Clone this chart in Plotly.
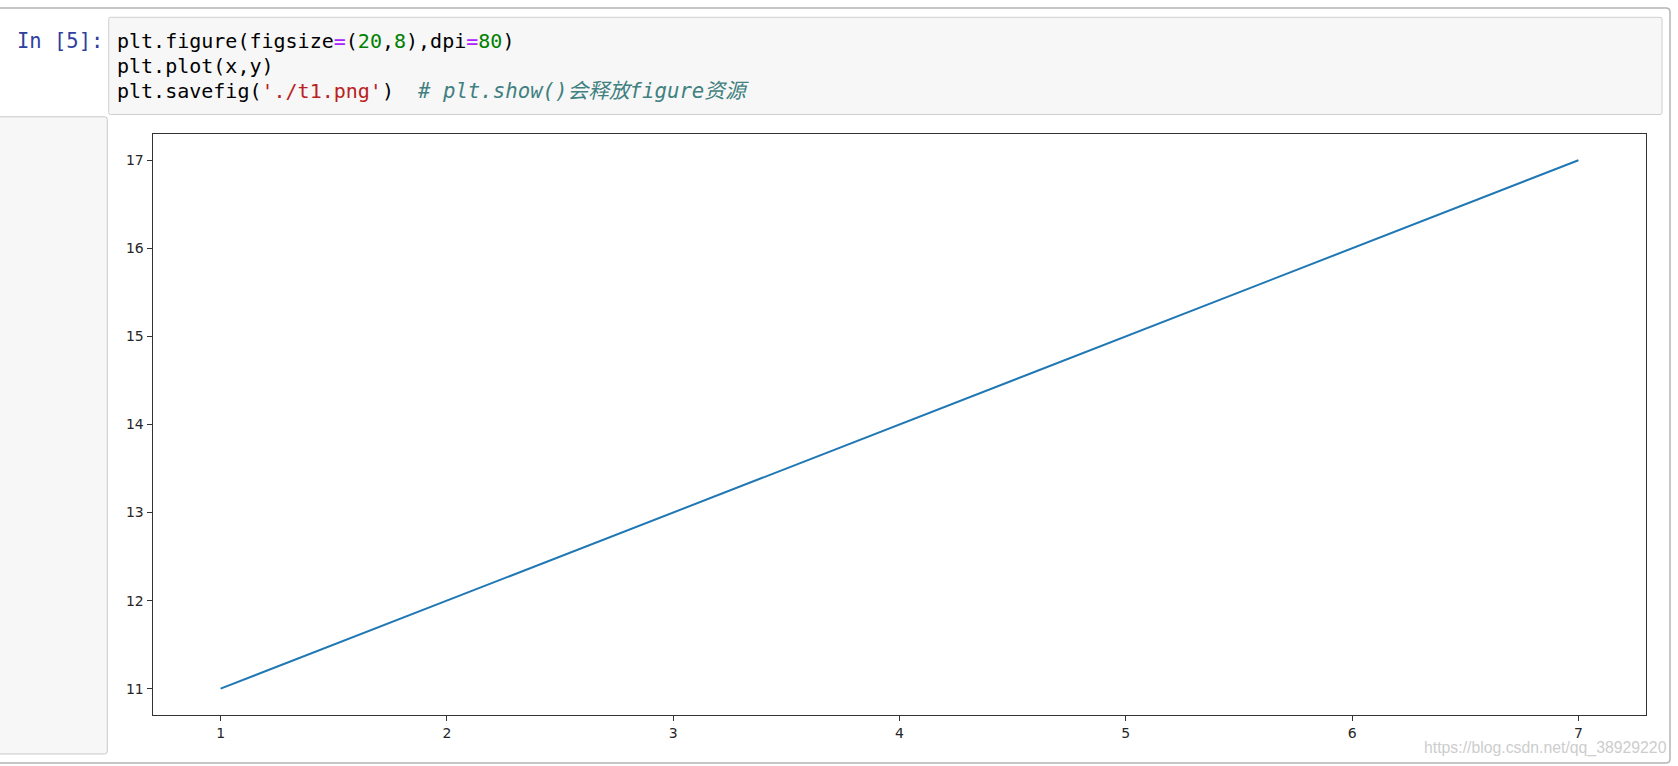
import plotly.graph_objects as go

# ---- data ----
x_vals = [1, 2, 3, 4, 5, 6, 7]
y_vals = [11, 12, 13, 14, 15, 16, 17]
x_ticks = [1, 2, 3, 4, 5, 6, 7]
y_ticks = [11, 12, 13, 14, 15, 16, 17]

prompt_text = "In [5]:"
code_lines = [
    "plt.figure(figsize<span style='color:#AA22FF'>=</span>(<span style='color:#008000'>20</span>,<span style='color:#008000'>8</span>),dpi<span style='color:#AA22FF'>=</span><span style='color:#008000'>80</span>)",
    "plt.plot(x,y)",
    "plt.savefig(<span style='color:#BA2121'>'./t1.png'</span>)\u00a0\u00a0<span style='color:#408080;font-size:20.7px'><i>#\u00a0plt.show()会释放figure资源</i></span>",
]
watermark = "https://blog.csdn.net/qq_38929220"

W, H = 1678, 766


def px(x):
    return x / W


def py(y):
    return 1 - y / H


def path(points):
    d = ""
    for cmd, pts in points:
        d += cmd + " " + " ".join(f"{px(a):.6f},{py(b):.6f}" for a, b in pts) + " "
    return d.strip()


fig = go.Figure()
fig.add_trace(go.Scatter(
    x=x_vals, y=y_vals, mode="lines",
    line=dict(color="#1f77b4", width=2),
    hoverinfo="skip", showlegend=False,
))

shapes = []
# outer notebook frame
shapes.append(dict(
    type="path", xref="paper", yref="paper",
    path=path([("M", [(0, 8)]), ("L", [(1666, 8)]), ("Q", [(1670, 8), (1670, 12)]),
               ("L", [(1670, 759)]), ("Q", [(1670, 763), (1666, 763)]), ("L", [(0, 763)])]),
    line=dict(color="#b4b4b4", width=1.5),
))
# code cell box
shapes.append(dict(
    type="path", xref="paper", yref="paper",
    path=path([("M", [(110.5, 17.3)]), ("L", [(1660, 17.3)]), ("Q", [(1662, 17.3), (1662, 19.3)]),
               ("L", [(1662, 112.5)]), ("Q", [(1662, 114.5), (1660, 114.5)]),
               ("L", [(110.5, 114.5)]), ("Q", [(108.7, 114.5), (108.7, 112.5)]),
               ("L", [(108.7, 19.3)]), ("Q", [(108.7, 17.3), (110.5, 17.3)]), ("Z", [])]),
    fillcolor="#f7f7f7", line=dict(color="#cfcfcf", width=1),
))
# output prompt box
shapes.append(dict(
    type="path", xref="paper", yref="paper",
    path=path([("M", [(-2, 116.8)]), ("L", [(104.5, 116.8)]), ("Q", [(107.3, 116.8), (107.3, 119.6)]),
               ("L", [(107.3, 751)]), ("Q", [(107.3, 754), (104.5, 754)]),
               ("L", [(-2, 754)]), ("Z", [])]),
    fillcolor="#f7f7f7", line=dict(color="#c8c8c8", width=1),
))

annotations = []
annotations.append(dict(
    text=prompt_text, xref="paper", yref="paper",
    x=px(14.5), y=py(40.7), xanchor="left", yanchor="middle", showarrow=False,
    font=dict(family="DejaVu Sans Mono", size=20.5, color="#303F9F"),
))
line_y = [40.7, 66.2, 91.2]
for t, yy in zip(code_lines, line_y):
    annotations.append(dict(
        text=t, xref="paper", yref="paper",
        x=px(114.5), y=py(yy), xanchor="left", yanchor="middle", showarrow=False,
        font=dict(family="DejaVu Sans Mono, Noto Sans CJK SC", size=20, color="#000000"),
    ))
annotations.append(dict(
    text=watermark, xref="paper", yref="paper",
    x=px(1669), y=py(748), xanchor="right", yanchor="middle", showarrow=False,
    font=dict(family="Liberation Sans, Arial", size=15.8, color="#cdcdcd"),
))

axis_common = dict(
    showgrid=False, zeroline=False, showline=True, mirror=True,
    linecolor="#333333", linewidth=1.3,
    ticks="outside", ticklen=5, tickwidth=1.2, tickcolor="#333333",
    tickfont=dict(family="DejaVu Sans", size=14, color="#262626"),
    fixedrange=True,
)

fig.update_layout(
    width=W, height=H, autosize=False,
    margin=dict(l=0, r=0, t=0, b=0),
    paper_bgcolor="#ffffff", plot_bgcolor="#ffffff",
    shapes=shapes, annotations=annotations,
    xaxis=dict(domain=[px(152.7), px(1646.3)], range=[0.7, 7.3],
               tickmode="array", tickvals=x_ticks, ticktext=[str(v) for v in x_ticks],
               **axis_common),
    yaxis=dict(domain=[py(715.1), py(133.8)], range=[10.7, 17.3],
               tickmode="array", tickvals=y_ticks, ticktext=[str(v) for v in y_ticks],
               **axis_common),
    showlegend=False,
)

fig.write_html(
    "out.html",
    config={"displayModeBar": False},
    post_script="document.body.style.margin='0';document.body.style.overflow='hidden';",
)
